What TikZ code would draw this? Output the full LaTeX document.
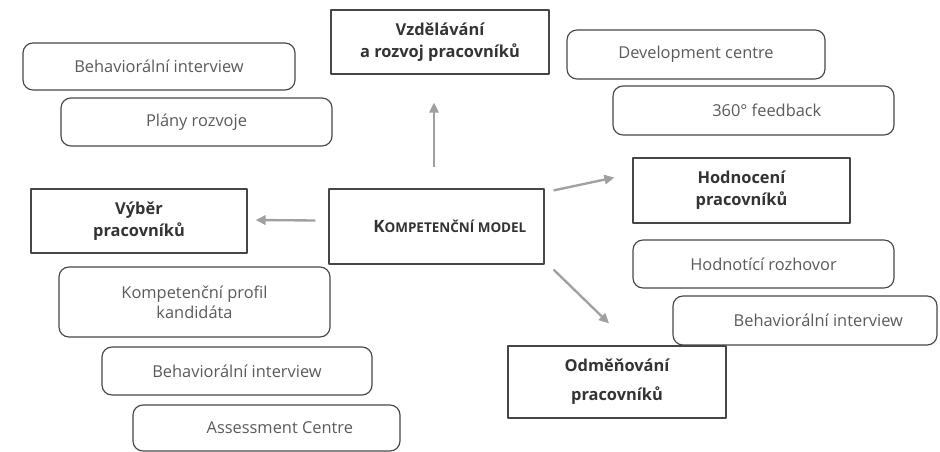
\documentclass[tikz,border=0pt]{standalone}
\usepackage{fontspec}
\setmainfont{Open Sans}
\usetikzlibrary{arrows.meta,calc}
\definecolor{boxLine}{RGB}{70,70,70}
\definecolor{toolText}{RGB}{90,90,90}
\definecolor{arrGray}{RGB}{160,160,160}

\tikzset{
  toolbox/.style={draw=boxLine, line width=1pt, rounded corners=0.3cm, inner sep=0pt,
    text=toolText, font=\fontsize{14}{17}\selectfont, align=center},
  areabox/.style={draw=boxLine, line width=1pt, inner sep=0pt,
    text=black!80, font=\fontsize{14}{19}\selectfont\bfseries, align=center},
  arr/.style={arrGray, line width=2pt, -{Triangle[length=3mm,width=2.8mm]}}
}

\begin{document}
\begin{tikzpicture}[x=0.03cm, y=-0.03cm, line join=round]
    \useasboundingbox (0,0) rectangle (940,452);
    % hlavni pole
    \node[areabox, minimum width=6.45cm, minimum height=2.25cm] (model) at (436.5,226.5)
        {\hspace*{0.8cm}{\fontsize{14.5}{17}\selectfont K}{\fontsize{11.5}{13}\selectfont OMPETENČNÍ MODEL}};
    \node[areabox, minimum width=6.54cm, minimum height=1.92cm] (vzdel) at (440,42) {Vzdělávání\\a rozvoj pracovníků};
    \node[areabox, minimum width=6.48cm, minimum height=1.92cm] (vyber) at (139,221) {Výběr\\pracovníků};
    \node[areabox, minimum width=6.51cm, minimum height=1.95cm] (hodn) at (741.5,190.5) {Hodnocení\\pracovníků};
    \node[areabox, minimum width=6.54cm, minimum height=2.16cm, font=\fontsize{14}{25}\selectfont\bfseries] (odm) at (617,382) {Odměňování\\pracovníků};
    % nastroje
    \node[toolbox, minimum width=8.16cm, minimum height=1.41cm] (bi1) at (159,66.5) {Behaviorální interview};
    \node[toolbox, minimum width=8.13cm, minimum height=1.44cm] (plany) at (196.5,122) {Plány rozvoje};
    \node[toolbox, minimum width=7.74cm, minimum height=1.47cm] (dev) at (696,54.5) {Development centre};
    \node[toolbox, minimum width=8.43cm, minimum height=1.47cm] (fb) at (753.5,110.5) {\hspace*{0.8cm}360° feedback};
    \node[toolbox, minimum width=7.83cm, minimum height=1.44cm] (rozh) at (763.5,264) {Hodnotící rozhovor};
    \node[toolbox, minimum width=7.92cm, minimum height=1.47cm] (bi3) at (805,320.5) {\hspace*{0.8cm}Behaviorální interview};
    \node[toolbox, minimum width=8.13cm, minimum height=2.10cm] (profil) at (194.5,302) {Kompetenční profil\\kandidáta};
    \node[toolbox, minimum width=8.10cm, minimum height=1.44cm] (bi2) at (237,371) {Behaviorální interview};
    \node[toolbox, minimum width=8.01cm, minimum height=1.38cm] (ac) at (266.5,428) {\hspace*{0.8cm}Assessment Centre};
    % sipky
    \draw[arr] ($(model.north)+(-2.5,-21)$) -- ($(vzdel.south)+(-6,28)$);
    \draw[arr] ($(model.west)+(-13,-6)$) -- ($(vyber.east)+(8,-1)$);
    \draw[arr] ($(model.north east)+(9,2)$) -- ($(hodn.west)+(-18,-13)$);
    \draw[arr] ($(model.south east)+(9,5)$) -- ($(odm.north)+(-8,-22)$);
\end{tikzpicture}
\end{document}
